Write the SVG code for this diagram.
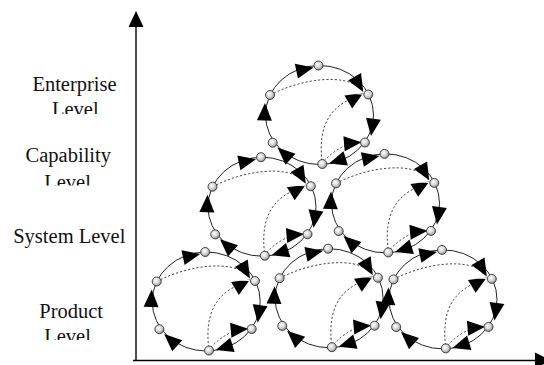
<svg xmlns="http://www.w3.org/2000/svg" width="544" height="365" viewBox="0 0 544 365">
  <style>
    .ring { fill: none; stroke: #222; stroke-width: 1; }
    .dash { fill: none; stroke: #333; stroke-width: 0.9; stroke-dasharray: 2.2 2; }
    .head { fill: #000; }
    .node { fill: url(#ball); stroke: #333; stroke-width: 0.9; }
    .axis { fill: none; stroke: #000; stroke-width: 1.4; }
    .label { font-family: "Liberation Serif", "Times New Roman", serif; font-size: 20.5px; fill: #111; text-anchor: middle; }
  </style>
  <defs>
    <radialGradient id="ball" cx="0.4" cy="0.38" r="0.65">
      <stop offset="0" stop-color="#ffffff"/>
      <stop offset="0.55" stop-color="#d4d4d4"/>
      <stop offset="1" stop-color="#8a8a8a"/>
    </radialGradient>
    <polygon id="ah" class="head" points="0,0 -17.5,-7.5 -17.5,7.5"/>

    <!-- one process cycle: six stations on a ring, clockwise flow plus dashed shortcuts -->
    <g id="cycle">
      <ellipse class="ring" cx="319.5" cy="115" rx="54" ry="49.5"/>
      <path class="dash" d="M270,95 C305,77 345,75 358,87"/>
      <path class="dash" d="M322,161 C318,126 330,106 356,97"/>
      <path class="dash" d="M324,161 Q338,146 356,142"/>
      <use href="#ah" transform="translate(313.5,67.5) rotate(-12)"/>
      <use href="#ah" transform="translate(363.3,92) rotate(60)"/>
      <use href="#ah" transform="translate(363.3,93) rotate(-31)"/>
      <use href="#ah" transform="translate(371,136) rotate(98)"/>
      <use href="#ah" transform="translate(361.5,142.3) rotate(-5)"/>
      <use href="#ah" transform="translate(329,163.5) rotate(163)"/>
      <use href="#ah" transform="translate(277.5,147.5) rotate(222)"/>
      <use href="#ah" transform="translate(265,103) rotate(-88)"/>
      <line x1="354" y1="93.4" x2="366" y2="94.3" stroke="#f4f4f4" stroke-width="1.2"/>
      <circle class="node" cx="318.5" cy="65.5" r="4.5"/>
      <circle class="node" cx="270" cy="95" r="4.5"/>
      <circle class="node" cx="368.3" cy="94.5" r="4.5"/>
      <circle class="node" cx="272.7" cy="142.7" r="4.5"/>
      <circle class="node" cx="322.3" cy="164" r="4.5"/>
      <circle class="node" cx="365" cy="142.5" r="4.5"/>
    </g>

    <clipPath id="clip-ent"><rect x="0" y="60" width="130" height="54"/></clipPath>
    <clipPath id="clip-cap"><rect x="0" y="130" width="130" height="55.5"/></clipPath>
    <clipPath id="clip-prod"><rect x="0" y="290" width="130" height="50"/></clipPath>
  </defs>

  <rect width="544" height="365" fill="#fff"/>

  <!-- level labels -->
  <g id="labels">
    <g clip-path="url(#clip-ent)">
      <text class="label" x="74.5" y="91">Enterprise</text>
      <text class="label" x="75.3" y="115.5">Level</text>
    </g>
    <g clip-path="url(#clip-cap)">
      <text class="label" x="68.3" y="162.3">Capability</text>
      <text class="label" x="67.5" y="188.5">Level</text>
    </g>
    <text class="label" x="69.3" y="242.7">System Level</text>
    <g clip-path="url(#clip-prod)">
      <text class="label" x="71.2" y="317.7">Product</text>
      <text class="label" x="67.5" y="343">Level</text>
    </g>
  </g>

  <!-- axes -->
  <g id="connectors">
    <line class="axis" x1="136" y1="361" x2="136" y2="25"/>
    <polygon points="136,11 128.5,27 143.5,27" fill="#000"/>
    <line class="axis" x1="133" y1="360.5" x2="536" y2="360.5"/>
    <polygon points="551,360.5 535,352.5 535,368.5" fill="#000"/>
  </g>

  <!-- cycles, bottom row first -->
  <g id="product-cycle-1"><use href="#cycle" transform="translate(-113.3,186.5)"/></g>
  <g id="product-cycle-2"><use href="#cycle" transform="translate(9.6,183.2)"/></g>
  <g id="product-cycle-3"><use href="#cycle" transform="translate(123.5,184.4)"/></g>
  <g id="capability-cycle-1"><use href="#cycle" transform="translate(-57.5,91.7)"/></g>
  <g id="capability-cycle-2"><use href="#cycle" transform="translate(66,88.4)"/></g>
  <g id="enterprise-cycle"><use href="#cycle"/></g>
</svg>
